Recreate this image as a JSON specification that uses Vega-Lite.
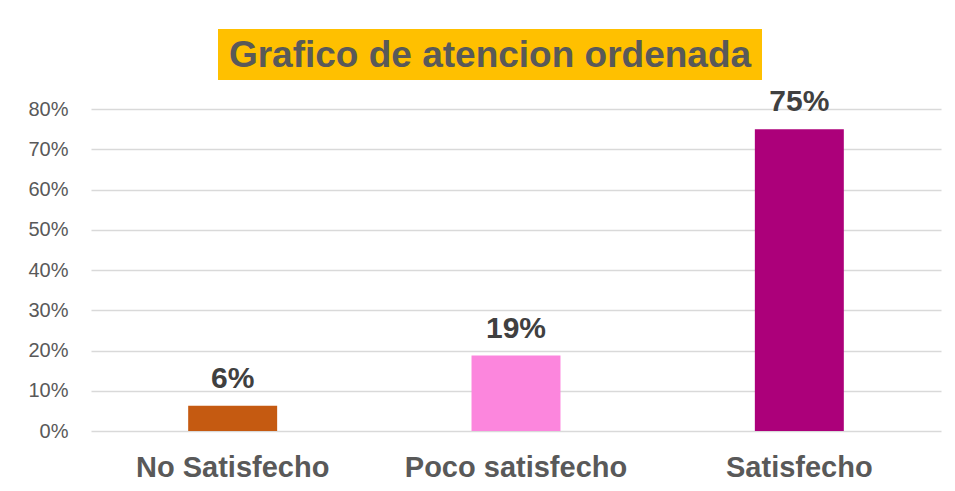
{
  "$schema": "https://vega.github.io/schema/vega-lite/v6.json",
  "background": "white",
  "padding": {"left": 27, "top": 29, "right": 5, "bottom": 5},
  "config": {"font": "Liberation Sans"},
  "vconcat": [
    {
      "width": 544,
      "height": 51,
      "view": {"fill": "#FFC000", "stroke": null},
      "data": {"values": [{"fila": "titulo", "texto": "Grafico de atencion ordenada"}]},
      "mark": {"type": "text", "font": "Liberation Sans", "fontSize": 37, "fontWeight": "bold", "color": "#595959", "baseline": "middle", "align": "center", "dy": 1},
      "encoding": {
        "y": {"field": "fila", "type": "nominal", "axis": {"orient": "right", "title": null, "labels": false, "ticks": false, "domain": false, "grid": false, "minExtent": 52, "maxExtent": 52}},
        "text": {"field": "texto"}
      }
    },
    {
      "width": 850,
      "height": 322,
      "view": {"stroke": null},
      "data": {
        "values": [
          {"categoria": "No Satisfecho", "valor": 0.0625, "etiqueta": "6%"},
          {"categoria": "Poco satisfecho", "valor": 0.1875, "etiqueta": "19%"},
          {"categoria": "Satisfecho", "valor": 0.75, "etiqueta": "75%"}
        ]
      },
      "encoding": {
        "x": {
          "field": "categoria", "type": "nominal", "sort": null,
          "scale": {"paddingInner": 0.686, "paddingOuter": 0.343},
          "axis": {"title": null, "labelAngle": 0, "labelLimit": 0, "domain": false, "ticks": false, "tickSize": 0, "labelPadding": 22, "labelFontSize": 29, "labelFontWeight": "bold", "labelColor": "#595959", "labelFont": "Liberation Sans"}
        },
        "y": {
          "field": "valor", "type": "quantitative",
          "scale": {"domain": [0, 0.8], "nice": false},
          "axis": {"title": null, "format": ".0%", "values": [0, 0.1, 0.2, 0.3, 0.4, 0.5, 0.6, 0.7, 0.8], "domain": false, "ticks": false, "tickSize": 0, "labelPadding": 23, "labelFontSize": 20, "labelColor": "#595959", "labelFont": "Liberation Sans", "gridColor": "#D9D9D9", "gridWidth": 1.3}
        }
      },
      "layer": [
        {
          "mark": {"type": "bar"},
          "encoding": {
            "color": {
              "field": "categoria", "type": "nominal", "legend": null,
              "scale": {"domain": ["No Satisfecho", "Poco satisfecho", "Satisfecho"], "range": ["#C55A11", "#FC86DD", "#AC007A"]}
            }
          }
        },
        {
          "mark": {"type": "text", "fontSize": 30, "fontWeight": "bold", "color": "#404040", "baseline": "alphabetic", "dy": -18, "font": "Liberation Sans"},
          "encoding": {"text": {"field": "etiqueta"}}
        }
      ]
    }
  ],
  "spacing": 7,
  "center": true
}
